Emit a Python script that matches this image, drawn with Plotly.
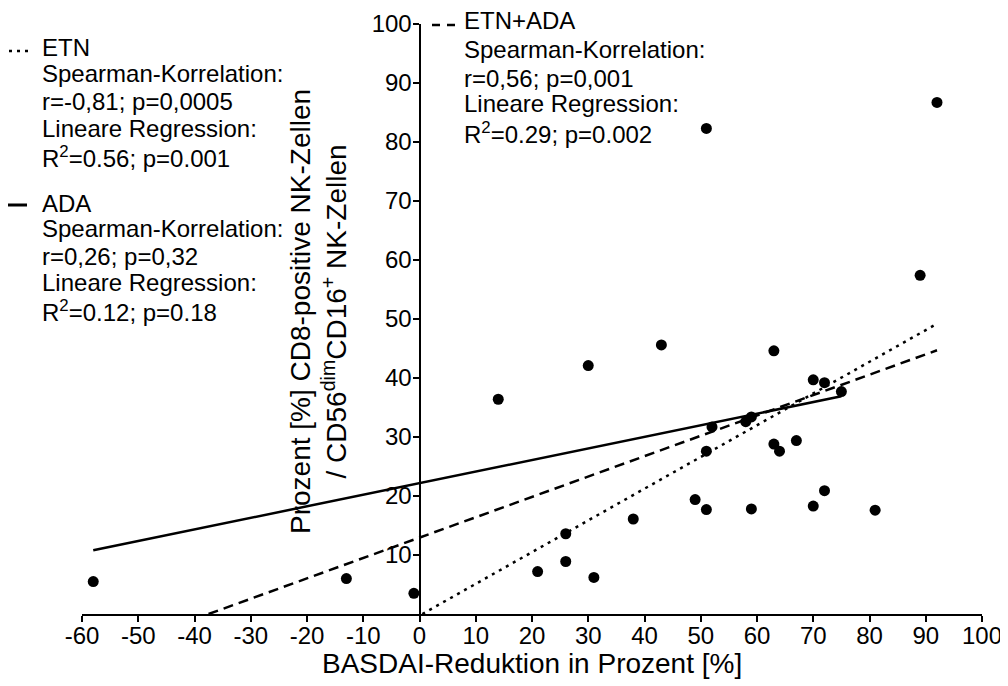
import plotly.graph_objects as go

# ---------------- data ----------------
basdai_reduction = [-58, -13, -1, 14, 21, 26, 26, 30, 31, 38, 43, 49, 51, 51, 51, 52,
                    58, 59, 59, 63, 63, 64, 67, 70, 70, 72, 72, 75, 81, 89, 92]
cd8_percent = [5.5, 6.0, 3.5, 36.4, 7.2, 13.6, 8.9, 42.1, 6.2, 16.1, 45.6, 19.4, 82.3,
               27.6, 17.7, 31.7, 32.6, 33.4, 17.8, 44.6, 28.8, 27.6, 29.4, 39.7, 18.3,
               39.2, 20.9, 37.7, 17.6, 57.4, 86.7]

# regression lines (end points)
etn_fit_x = [0.5, 92]
etn_fit_y = [0.0, 49.2]
ada_fit_x = [-58, 75]
ada_fit_y = [10.8, 36.9]
all_fit_x = [-37.5, 92]
all_fit_y = [0.0, 44.7]

x_ticks = list(range(-60, 101, 10))
x_tick_labels = [str(v) for v in x_ticks]
y_ticks = list(range(10, 101, 10))
y_tick_labels = [str(v) for v in y_ticks]

etn_text = ["ETN", "Spearman-Korrelation:", "r=-0,81; p=0,0005",
            "Lineare Regression:", "R<sup>2</sup>=0.56; p=0.001"]
ada_text = ["ADA", "Spearman-Korrelation:", "r=0,26; p=0,32",
            "Lineare Regression:", "R<sup>2</sup>=0.12; p=0.18"]
both_text = ["ETN+ADA", "Spearman-Korrelation:", "r=0,56; p=0,001",
             "Lineare Regression:", "R<sup>2</sup>=0.29; p=0.002"]

x_title = "BASDAI-Reduktion in Prozent [%]"
y_title = ("Prozent [%] CD8-positive NK-Zellen<br>"
           "/ CD56<sup>dim</sup>CD16<sup>+</sup> NK-Zellen")

# ---------------- layout helpers ----------------
# the page body has an 8px margin, so figure pixels = page pixels - 8
OFF = 8
FONT = "Liberation Sans, Arial, Helvetica, sans-serif"
W, H = 1008 - OFF, 686 - OFF
ML, MT = 82 - OFF, 24 - OFF
PW, PH = 900, 590
MR = W - ML - PW
MB = H - MT - PH


def px(x_page):
    return (x_page - OFF - ML) / PW


def py(y_page):
    return (MT + PH - (y_page - OFF)) / PH


fig = go.Figure()

fig.add_trace(go.Scatter(x=etn_fit_x, y=etn_fit_y, mode="lines",
                         line=dict(color="black", width=2.5, dash="3px,5px"),
                         showlegend=False, hoverinfo="skip"))
fig.add_trace(go.Scatter(x=ada_fit_x, y=ada_fit_y, mode="lines",
                         line=dict(color="black", width=2.5),
                         showlegend=False, hoverinfo="skip"))
fig.add_trace(go.Scatter(x=all_fit_x, y=all_fit_y, mode="lines",
                         line=dict(color="black", width=2.5, dash="10px,6px"),
                         showlegend=False, hoverinfo="skip"))
fig.add_trace(go.Scatter(x=basdai_reduction, y=cd8_percent, mode="markers",
                         marker=dict(color="black", size=11),
                         showlegend=False, cliponaxis=False))

annotations = []


def add_block(lines, x_px, y_centers):
    for t, yc in zip(lines, y_centers):
        annotations.append(dict(
            text=t, xref="paper", yref="paper", x=px(x_px), y=py(yc),
            xanchor="left", yanchor="middle", showarrow=False,
            font=dict(family=FONT, size=24, color="black")))


add_block(etn_text, 40, [47, 73, 101, 128, 157])
add_block(ada_text, 40, [203, 228, 256, 282, 311])
add_block(both_text, 462, [21, 49, 78, 104, 133])

# y-axis title (rotated, two lines)
annotations.append(dict(
    text=y_title, xref="paper", yref="paper", x=px(318), y=py(312),
    xanchor="center", yanchor="middle", textangle=-90, showarrow=False,
    font=dict(family=FONT, size=28, color="black")))

# x-axis title
annotations.append(dict(
    text=x_title, xref="paper", yref="paper", x=px(532), y=py(663),
    xanchor="center", yanchor="middle", showarrow=False,
    font=dict(family=FONT, size=28, color="black")))

shapes = [
    dict(type="line", xref="paper", yref="paper", x0=px(9), x1=px(31), y0=py(51), y1=py(51),
         line=dict(color="black", width=2.5, dash="3px,5px")),
    dict(type="line", xref="paper", yref="paper", x0=px(8), x1=px(27), y0=py(205), y1=py(205),
         line=dict(color="black", width=3)),
    dict(type="line", xref="paper", yref="paper", x0=px(432), x1=px(455), y0=py(25), y1=py(25),
         line=dict(color="black", width=2.5, dash="8px,7px")),
]

axis_common = dict(
    showgrid=False, zeroline=False, showline=True, linecolor="black", linewidth=2,
    ticks="outside", ticklen=6, tickwidth=2, tickcolor="black", automargin=False,
    tickfont=dict(family=FONT, size=24, color="black"),
)

fig.update_layout(
    width=W, height=H,
    margin=dict(l=ML, r=MR, t=MT, b=MB, pad=0, autoexpand=False),
    paper_bgcolor="white", plot_bgcolor="white",
    xaxis=dict(range=[-60, 100], tickmode="array", tickvals=x_ticks,
               ticktext=x_tick_labels, ticklabelstandoff=-7, **axis_common),
    yaxis=dict(range=[0, 100], tickmode="array", tickvals=y_ticks,
               ticktext=y_tick_labels, anchor="free", ticklabelstandoff=-4,
               position=(0 - (-60)) / 160, **axis_common),
    annotations=annotations,
    shapes=shapes,
    font=dict(family=FONT, color="black"),
)

fig.write_html("out.html")
